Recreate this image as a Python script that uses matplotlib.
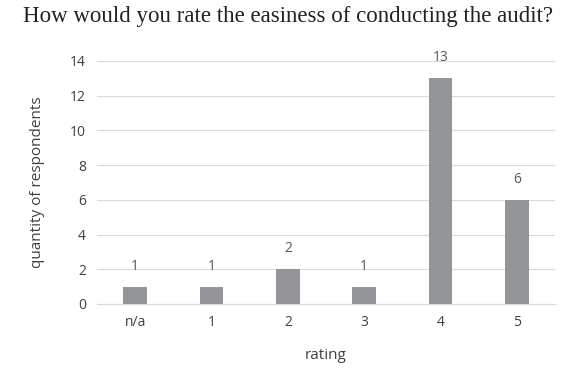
import numpy as np
import matplotlib.pyplot as plt

# survey answers: how easy was the audit
categories = ["n/a", "1", "2", "3", "4", "5"]
counts = [1, 1, 2, 1, 13, 6]
yticks = [0, 2, 4, 6, 8, 10, 12, 14]

txt = "#595959"
fig = plt.figure(figsize=(5.63, 3.73), dpi=100)
ax = fig.add_axes([0.1723, 0.185, 0.8135, 0.6515])

x = np.arange(len(categories))
bars = ax.bar(x, counts, width=0.31, color="#939598", zorder=3)
for xi, c in zip(x, counts):
    ax.text(xi, c + 0.75, str(c), ha="center", va="bottom",
            fontsize=10, color=txt, family="Open Sans", zorder=4)

ax.set_xlim(-0.5, len(categories) - 0.5)
ax.set_ylim(0, 14)
ax.set_yticks(yticks)
ax.set_xticks(x)
ax.set_xticklabels(categories)
ax.yaxis.grid(True, color="#d9d9d9", linewidth=0.8, zorder=0)
for s in ["top", "right", "left"]:
    ax.spines[s].set_visible(False)
ax.spines["bottom"].set_color("#d9d9d9")
ax.tick_params(length=0, labelsize=10, labelcolor="#404040", pad=8)
for lab in ax.get_xticklabels() + ax.get_yticklabels():
    lab.set_family("Open Sans")

ax.set_xlabel("rating", fontsize=11, color="#404040", family="Open Sans", labelpad=13)
ax.set_ylabel("quantity of respondents", fontsize=11, color="#404040",
              family="Open Sans", labelpad=18)
fig.text(0.512, 0.955, "How would you rate the easiness of conducting the audit?",
         ha="center", va="center", fontsize=16.5, color="#222222",
         family="Liberation Serif")

fig.savefig("out.png", dpi=100)
